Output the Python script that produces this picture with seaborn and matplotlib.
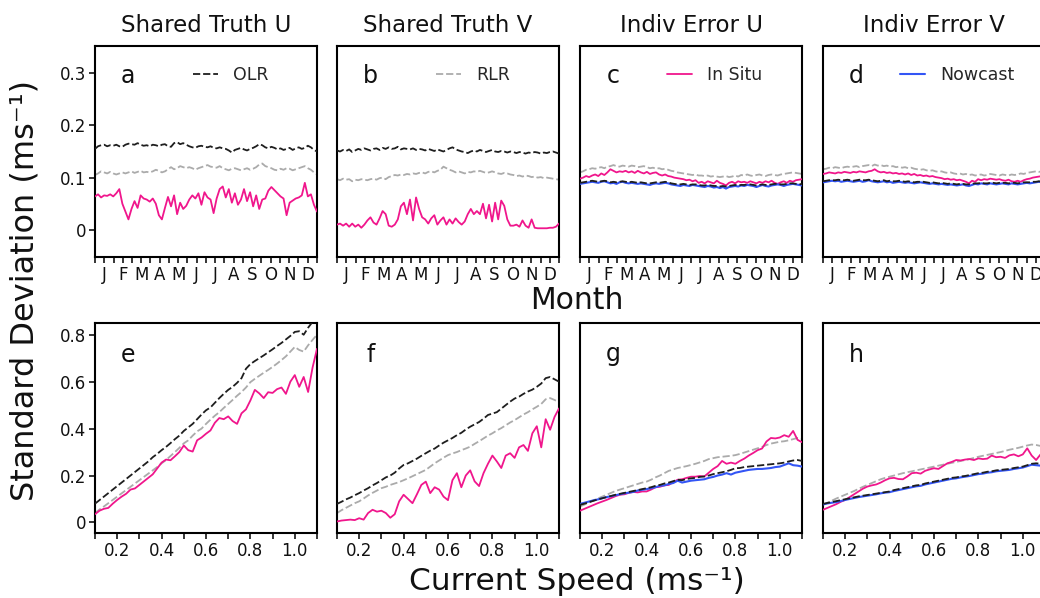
import numpy as np
import matplotlib
matplotlib.use("Agg")
import matplotlib.pyplot as plt
import seaborn as sns

# ---------------- data ----------------
months = ["J", "F", "M", "A", "M", "J", "J", "A", "S", "O", "N", "D"]
panel_titles = ["Shared Truth U", "Shared Truth V", "Indiv Error U", "Indiv Error V"]
panel_letters_top = ["a", "b", "c", "d"]
panel_letters_bot = ["e", "f", "g", "h"]
series_names = ["OLR", "RLR", "In Situ", "Nowcast"]

# top row: 5-day samples through the year (standard deviation, m/s)
a_olr = [0.155, 0.160, 0.162, 0.163, 0.160, 0.162, 0.161, 0.163, 0.160, 0.159, 0.163, 0.165, 0.164, 0.163, 0.166, 0.163, 0.161, 0.162, 0.160, 0.163, 0.162, 0.160, 0.163, 0.164, 0.160, 0.159, 0.166, 0.168, 0.164, 0.166, 0.163, 0.160, 0.158, 0.157, 0.160, 0.161, 0.159, 0.158, 0.160, 0.157, 0.156, 0.158, 0.156, 0.155, 0.152, 0.148, 0.153, 0.155, 0.157, 0.154, 0.152, 0.155, 0.157, 0.160, 0.164, 0.162, 0.158, 0.156, 0.159, 0.157, 0.154, 0.156, 0.153, 0.155, 0.157, 0.153, 0.156, 0.158, 0.155, 0.157, 0.161, 0.158, 0.153, 0.150]
a_rlr = [0.105, 0.108, 0.112, 0.110, 0.108, 0.111, 0.108, 0.106, 0.108, 0.110, 0.108, 0.110, 0.112, 0.109, 0.111, 0.113, 0.110, 0.111, 0.110, 0.112, 0.115, 0.113, 0.110, 0.112, 0.116, 0.120, 0.116, 0.118, 0.122, 0.120, 0.118, 0.120, 0.118, 0.115, 0.118, 0.120, 0.122, 0.124, 0.121, 0.120, 0.119, 0.122, 0.118, 0.116, 0.114, 0.117, 0.118, 0.116, 0.114, 0.116, 0.118, 0.115, 0.117, 0.120, 0.125, 0.127, 0.122, 0.120, 0.118, 0.115, 0.114, 0.117, 0.115, 0.118, 0.117, 0.114, 0.116, 0.118, 0.120, 0.122, 0.118, 0.115, 0.110, 0.106]
a_insitu = [0.064, 0.068, 0.062, 0.066, 0.065, 0.068, 0.064, 0.070, 0.078, 0.050, 0.035, 0.020, 0.040, 0.055, 0.042, 0.066, 0.060, 0.058, 0.054, 0.060, 0.050, 0.028, 0.020, 0.042, 0.063, 0.045, 0.066, 0.030, 0.052, 0.040, 0.046, 0.058, 0.066, 0.060, 0.070, 0.048, 0.072, 0.062, 0.058, 0.032, 0.060, 0.078, 0.083, 0.062, 0.078, 0.052, 0.070, 0.048, 0.058, 0.078, 0.055, 0.072, 0.045, 0.066, 0.040, 0.058, 0.060, 0.075, 0.082, 0.076, 0.070, 0.064, 0.060, 0.028, 0.052, 0.056, 0.060, 0.062, 0.066, 0.090, 0.064, 0.068, 0.048, 0.035]

b_olr = [0.152, 0.150, 0.153, 0.151, 0.154, 0.149, 0.152, 0.155, 0.153, 0.156, 0.154, 0.152, 0.155, 0.156, 0.153, 0.157, 0.155, 0.158, 0.155, 0.156, 0.159, 0.154, 0.156, 0.155, 0.154, 0.156, 0.153, 0.155, 0.154, 0.152, 0.155, 0.153, 0.151, 0.154, 0.152, 0.150, 0.153, 0.156, 0.158, 0.154, 0.152, 0.150, 0.149, 0.147, 0.150, 0.152, 0.150, 0.153, 0.151, 0.149, 0.151, 0.153, 0.150, 0.149, 0.151, 0.150, 0.148, 0.150, 0.149, 0.147, 0.149, 0.148, 0.146, 0.148, 0.147, 0.149, 0.148, 0.146, 0.148, 0.147, 0.149, 0.150, 0.148, 0.146]
b_rlr = [0.097, 0.095, 0.098, 0.096, 0.097, 0.093, 0.096, 0.095, 0.097, 0.096, 0.095, 0.097, 0.098, 0.096, 0.099, 0.100, 0.097, 0.101, 0.103, 0.105, 0.104, 0.106, 0.105, 0.107, 0.106, 0.108, 0.107, 0.109, 0.110, 0.108, 0.111, 0.112, 0.110, 0.113, 0.115, 0.121, 0.118, 0.115, 0.113, 0.110, 0.112, 0.110, 0.108, 0.111, 0.110, 0.112, 0.111, 0.113, 0.111, 0.109, 0.110, 0.112, 0.110, 0.108, 0.107, 0.109, 0.108, 0.106, 0.105, 0.103, 0.104, 0.102, 0.104, 0.103, 0.101, 0.102, 0.100, 0.101, 0.099, 0.100, 0.099, 0.098, 0.097, 0.096]
b_insitu = [0.010, 0.012, 0.008, 0.012, 0.006, 0.012, 0.006, 0.010, 0.004, 0.010, 0.018, 0.024, 0.014, 0.010, 0.022, 0.036, 0.030, 0.008, 0.006, 0.010, 0.020, 0.045, 0.052, 0.030, 0.058, 0.018, 0.062, 0.040, 0.024, 0.020, 0.012, 0.022, 0.028, 0.010, 0.018, 0.024, 0.010, 0.020, 0.012, 0.022, 0.015, 0.010, 0.016, 0.030, 0.040, 0.030, 0.036, 0.030, 0.050, 0.022, 0.048, 0.016, 0.052, 0.020, 0.056, 0.046, 0.020, 0.008, 0.008, 0.010, 0.006, 0.018, 0.008, 0.004, 0.020, 0.004, 0.003, 0.003, 0.003, 0.003, 0.004, 0.004, 0.006, 0.012]

c_olr = [0.090, 0.091, 0.092, 0.093, 0.094, 0.093, 0.092, 0.093, 0.094, 0.093, 0.091, 0.092, 0.091, 0.092, 0.093, 0.092, 0.091, 0.092, 0.091, 0.090, 0.091, 0.090, 0.089, 0.089, 0.090, 0.091, 0.090, 0.091, 0.092, 0.091, 0.089, 0.088, 0.087, 0.087, 0.088, 0.087, 0.086, 0.087, 0.087, 0.086, 0.085, 0.085, 0.086, 0.085, 0.084, 0.084, 0.083, 0.084, 0.083, 0.084, 0.085, 0.086, 0.085, 0.086, 0.086, 0.087, 0.087, 0.086, 0.085, 0.086, 0.087, 0.086, 0.086, 0.087, 0.088, 0.088, 0.087, 0.087, 0.088, 0.089, 0.089, 0.088, 0.088, 0.087]
c_rlr = [0.110, 0.112, 0.115, 0.116, 0.118, 0.117, 0.119, 0.120, 0.118, 0.121, 0.122, 0.124, 0.122, 0.121, 0.123, 0.122, 0.121, 0.123, 0.122, 0.120, 0.121, 0.122, 0.120, 0.118, 0.119, 0.117, 0.118, 0.116, 0.117, 0.115, 0.113, 0.112, 0.110, 0.109, 0.108, 0.107, 0.106, 0.105, 0.106, 0.104, 0.104, 0.103, 0.104, 0.102, 0.103, 0.102, 0.101, 0.102, 0.103, 0.101, 0.102, 0.104, 0.102, 0.105, 0.104, 0.106, 0.104, 0.103, 0.105, 0.106, 0.104, 0.103, 0.105, 0.106, 0.105, 0.104, 0.106, 0.107, 0.108, 0.109, 0.110, 0.109, 0.108, 0.107]
c_insitu = [0.098, 0.100, 0.103, 0.101, 0.104, 0.106, 0.103, 0.108, 0.105, 0.110, 0.116, 0.113, 0.110, 0.112, 0.111, 0.113, 0.110, 0.112, 0.109, 0.113, 0.110, 0.108, 0.111, 0.107, 0.109, 0.110, 0.106, 0.104, 0.106, 0.103, 0.102, 0.100, 0.099, 0.098, 0.097, 0.095, 0.096, 0.093, 0.095, 0.090, 0.092, 0.089, 0.093, 0.091, 0.089, 0.094, 0.090, 0.088, 0.085, 0.090, 0.092, 0.089, 0.093, 0.091, 0.092, 0.090, 0.093, 0.091, 0.089, 0.092, 0.090, 0.093, 0.091, 0.094, 0.090, 0.088, 0.091, 0.093, 0.090, 0.094, 0.092, 0.095, 0.096, 0.097]
c_nowcast = [0.088, 0.089, 0.090, 0.091, 0.092, 0.091, 0.090, 0.092, 0.093, 0.091, 0.089, 0.090, 0.088, 0.091, 0.092, 0.090, 0.089, 0.090, 0.089, 0.088, 0.089, 0.088, 0.087, 0.086, 0.088, 0.089, 0.088, 0.089, 0.090, 0.089, 0.087, 0.086, 0.085, 0.084, 0.086, 0.085, 0.084, 0.086, 0.085, 0.084, 0.083, 0.082, 0.084, 0.083, 0.081, 0.082, 0.080, 0.082, 0.079, 0.082, 0.083, 0.084, 0.083, 0.085, 0.084, 0.086, 0.085, 0.084, 0.082, 0.084, 0.086, 0.084, 0.083, 0.085, 0.086, 0.087, 0.086, 0.084, 0.086, 0.087, 0.088, 0.087, 0.086, 0.085]

d_olr = [0.093, 0.094, 0.095, 0.095, 0.095, 0.096, 0.095, 0.095, 0.096, 0.095, 0.094, 0.095, 0.096, 0.095, 0.095, 0.096, 0.095, 0.094, 0.093, 0.094, 0.095, 0.093, 0.094, 0.093, 0.093, 0.094, 0.093, 0.092, 0.093, 0.092, 0.091, 0.092, 0.092, 0.092, 0.091, 0.090, 0.091, 0.090, 0.089, 0.090, 0.089, 0.088, 0.089, 0.088, 0.087, 0.088, 0.088, 0.087, 0.087, 0.088, 0.089, 0.089, 0.090, 0.089, 0.089, 0.090, 0.090, 0.089, 0.090, 0.090, 0.090, 0.089, 0.090, 0.090, 0.089, 0.090, 0.091, 0.091, 0.091, 0.092, 0.092, 0.093, 0.092, 0.092]
d_rlr = [0.116, 0.117, 0.119, 0.118, 0.120, 0.119, 0.118, 0.120, 0.121, 0.120, 0.121, 0.122, 0.120, 0.122, 0.123, 0.124, 0.122, 0.125, 0.123, 0.124, 0.122, 0.123, 0.121, 0.122, 0.120, 0.121, 0.119, 0.120, 0.118, 0.119, 0.117, 0.116, 0.115, 0.116, 0.114, 0.113, 0.114, 0.112, 0.111, 0.112, 0.110, 0.109, 0.110, 0.108, 0.107, 0.108, 0.106, 0.107, 0.105, 0.106, 0.104, 0.105, 0.106, 0.104, 0.105, 0.107, 0.106, 0.105, 0.104, 0.106, 0.105, 0.104, 0.106, 0.105, 0.106, 0.108, 0.107, 0.109, 0.110, 0.111, 0.112, 0.111, 0.112, 0.111]
d_insitu = [0.107, 0.108, 0.110, 0.109, 0.108, 0.110, 0.109, 0.111, 0.110, 0.109, 0.111, 0.110, 0.112, 0.111, 0.110, 0.112, 0.113, 0.116, 0.112, 0.110, 0.111, 0.109, 0.110, 0.108, 0.109, 0.107, 0.108, 0.106, 0.108, 0.105, 0.107, 0.104, 0.105, 0.103, 0.104, 0.102, 0.103, 0.101, 0.100, 0.099, 0.097, 0.098, 0.096, 0.097, 0.095, 0.096, 0.094, 0.092, 0.089, 0.094, 0.092, 0.097, 0.095, 0.097, 0.096, 0.098, 0.097, 0.096, 0.097, 0.095, 0.094, 0.096, 0.093, 0.092, 0.094, 0.092, 0.095, 0.097, 0.098, 0.100, 0.101, 0.102, 0.103, 0.102]
d_nowcast = [0.091, 0.092, 0.093, 0.094, 0.093, 0.094, 0.092, 0.093, 0.094, 0.093, 0.092, 0.093, 0.094, 0.092, 0.093, 0.095, 0.093, 0.092, 0.091, 0.092, 0.093, 0.091, 0.092, 0.090, 0.091, 0.092, 0.091, 0.090, 0.091, 0.090, 0.089, 0.090, 0.091, 0.090, 0.089, 0.088, 0.089, 0.088, 0.087, 0.088, 0.087, 0.086, 0.087, 0.086, 0.085, 0.086, 0.087, 0.085, 0.084, 0.086, 0.088, 0.087, 0.089, 0.088, 0.087, 0.089, 0.088, 0.087, 0.088, 0.089, 0.088, 0.087, 0.089, 0.088, 0.087, 0.088, 0.089, 0.090, 0.089, 0.090, 0.091, 0.092, 0.091, 0.090]

# bottom row: current speed bins 0.10 ... 1.10 step 0.02
speed = [0.10, 0.12, 0.14, 0.16, 0.18, 0.20, 0.22, 0.24, 0.26, 0.28, 0.30, 0.32, 0.34, 0.36, 0.38, 0.40, 0.42, 0.44, 0.46, 0.48, 0.50, 0.52, 0.54, 0.56, 0.58, 0.60, 0.62, 0.64, 0.66, 0.68, 0.70, 0.72, 0.74, 0.76, 0.78, 0.80, 0.82, 0.84, 0.86, 0.88, 0.90, 0.92, 0.94, 0.96, 0.98, 1.00, 1.02, 1.04, 1.06, 1.08, 1.10]

e_olr = [0.080, 0.095, 0.110, 0.125, 0.140, 0.155, 0.170, 0.185, 0.200, 0.215, 0.230, 0.245, 0.260, 0.278, 0.292, 0.308, 0.322, 0.338, 0.355, 0.370, 0.390, 0.405, 0.420, 0.440, 0.460, 0.478, 0.490, 0.510, 0.530, 0.548, 0.565, 0.578, 0.595, 0.615, 0.655, 0.675, 0.688, 0.700, 0.712, 0.725, 0.738, 0.752, 0.765, 0.780, 0.795, 0.812, 0.815, 0.800, 0.830, 0.855, 0.880]
e_rlr = [0.040, 0.055, 0.068, 0.082, 0.096, 0.110, 0.124, 0.138, 0.152, 0.166, 0.180, 0.194, 0.208, 0.222, 0.236, 0.252, 0.266, 0.283, 0.300, 0.318, 0.337, 0.350, 0.370, 0.388, 0.400, 0.420, 0.438, 0.455, 0.470, 0.488, 0.505, 0.522, 0.540, 0.556, 0.575, 0.598, 0.612, 0.625, 0.638, 0.650, 0.663, 0.677, 0.692, 0.708, 0.728, 0.748, 0.735, 0.728, 0.755, 0.778, 0.800]
e_insitu = [0.035, 0.050, 0.058, 0.062, 0.080, 0.096, 0.110, 0.122, 0.140, 0.145, 0.160, 0.175, 0.190, 0.205, 0.230, 0.255, 0.268, 0.265, 0.282, 0.300, 0.328, 0.308, 0.302, 0.350, 0.362, 0.378, 0.392, 0.425, 0.445, 0.440, 0.452, 0.432, 0.420, 0.465, 0.482, 0.520, 0.565, 0.550, 0.530, 0.555, 0.552, 0.568, 0.575, 0.548, 0.600, 0.628, 0.578, 0.620, 0.556, 0.660, 0.740]

f_olr = [0.079, 0.088, 0.098, 0.106, 0.116, 0.125, 0.136, 0.146, 0.158, 0.168, 0.180, 0.192, 0.200, 0.212, 0.230, 0.245, 0.252, 0.262, 0.272, 0.284, 0.295, 0.306, 0.315, 0.328, 0.340, 0.350, 0.360, 0.372, 0.382, 0.396, 0.408, 0.418, 0.428, 0.442, 0.458, 0.464, 0.470, 0.485, 0.500, 0.515, 0.528, 0.536, 0.548, 0.558, 0.566, 0.578, 0.592, 0.615, 0.620, 0.610, 0.600]
f_rlr = [0.040, 0.052, 0.062, 0.072, 0.082, 0.090, 0.102, 0.115, 0.126, 0.136, 0.146, 0.152, 0.160, 0.166, 0.172, 0.180, 0.188, 0.197, 0.206, 0.215, 0.224, 0.238, 0.252, 0.264, 0.276, 0.287, 0.294, 0.300, 0.308, 0.315, 0.323, 0.335, 0.346, 0.358, 0.370, 0.380, 0.392, 0.402, 0.414, 0.426, 0.436, 0.448, 0.460, 0.470, 0.482, 0.493, 0.505, 0.525, 0.530, 0.522, 0.512]
f_insitu = [0.004, 0.008, 0.010, 0.012, 0.010, 0.018, 0.012, 0.040, 0.054, 0.046, 0.050, 0.040, 0.020, 0.035, 0.090, 0.118, 0.100, 0.082, 0.120, 0.160, 0.174, 0.125, 0.150, 0.140, 0.110, 0.095, 0.180, 0.210, 0.150, 0.200, 0.222, 0.175, 0.155, 0.210, 0.250, 0.285, 0.260, 0.232, 0.285, 0.295, 0.275, 0.320, 0.330, 0.305, 0.380, 0.410, 0.320, 0.440, 0.395, 0.450, 0.486]

g_olr = [0.075, 0.080, 0.086, 0.092, 0.098, 0.103, 0.108, 0.113, 0.118, 0.122, 0.126, 0.130, 0.134, 0.138, 0.142, 0.146, 0.150, 0.156, 0.160, 0.166, 0.170, 0.176, 0.182, 0.180, 0.185, 0.188, 0.190, 0.194, 0.196, 0.200, 0.206, 0.210, 0.214, 0.218, 0.224, 0.231, 0.232, 0.236, 0.238, 0.240, 0.242, 0.244, 0.246, 0.248, 0.250, 0.252, 0.255, 0.260, 0.264, 0.266, 0.262]
g_rlr = [0.068, 0.076, 0.085, 0.094, 0.102, 0.110, 0.118, 0.126, 0.134, 0.140, 0.146, 0.152, 0.158, 0.164, 0.170, 0.174, 0.182, 0.192, 0.200, 0.210, 0.220, 0.226, 0.232, 0.236, 0.240, 0.245, 0.250, 0.256, 0.262, 0.270, 0.274, 0.278, 0.280, 0.282, 0.284, 0.287, 0.292, 0.298, 0.304, 0.310, 0.316, 0.322, 0.330, 0.336, 0.340, 0.344, 0.346, 0.350, 0.355, 0.360, 0.356]
g_insitu = [0.050, 0.058, 0.066, 0.074, 0.082, 0.089, 0.096, 0.104, 0.112, 0.118, 0.120, 0.126, 0.130, 0.128, 0.132, 0.132, 0.140, 0.150, 0.152, 0.158, 0.160, 0.172, 0.182, 0.184, 0.190, 0.195, 0.195, 0.198, 0.196, 0.212, 0.228, 0.240, 0.262, 0.250, 0.255, 0.250, 0.262, 0.272, 0.285, 0.296, 0.308, 0.315, 0.345, 0.360, 0.358, 0.362, 0.372, 0.365, 0.390, 0.352, 0.342]
g_nowcast = [0.079, 0.084, 0.089, 0.094, 0.098, 0.103, 0.108, 0.112, 0.116, 0.120, 0.124, 0.127, 0.130, 0.136, 0.139, 0.142, 0.146, 0.150, 0.156, 0.158, 0.164, 0.168, 0.178, 0.170, 0.174, 0.178, 0.180, 0.182, 0.184, 0.190, 0.194, 0.200, 0.204, 0.210, 0.204, 0.212, 0.216, 0.220, 0.224, 0.226, 0.228, 0.228, 0.230, 0.232, 0.236, 0.238, 0.245, 0.252, 0.244, 0.242, 0.238]

h_olr = [0.079, 0.083, 0.087, 0.091, 0.095, 0.099, 0.103, 0.107, 0.111, 0.114, 0.117, 0.120, 0.123, 0.126, 0.129, 0.132, 0.138, 0.142, 0.146, 0.150, 0.154, 0.158, 0.160, 0.166, 0.170, 0.174, 0.178, 0.182, 0.186, 0.190, 0.192, 0.196, 0.198, 0.202, 0.206, 0.210, 0.212, 0.216, 0.218, 0.222, 0.224, 0.226, 0.228, 0.232, 0.235, 0.238, 0.244, 0.250, 0.252, 0.250, 0.248]
h_rlr = [0.075, 0.084, 0.093, 0.102, 0.110, 0.118, 0.126, 0.134, 0.143, 0.152, 0.160, 0.168, 0.176, 0.184, 0.190, 0.195, 0.200, 0.205, 0.210, 0.214, 0.218, 0.222, 0.226, 0.230, 0.234, 0.238, 0.242, 0.246, 0.250, 0.254, 0.258, 0.262, 0.266, 0.270, 0.275, 0.280, 0.284, 0.288, 0.292, 0.296, 0.300, 0.305, 0.310, 0.314, 0.318, 0.323, 0.328, 0.332, 0.330, 0.326, 0.324]
h_insitu = [0.054, 0.062, 0.070, 0.078, 0.088, 0.096, 0.108, 0.120, 0.132, 0.144, 0.153, 0.158, 0.162, 0.170, 0.180, 0.188, 0.190, 0.185, 0.184, 0.196, 0.210, 0.212, 0.208, 0.220, 0.226, 0.231, 0.228, 0.240, 0.252, 0.258, 0.266, 0.264, 0.268, 0.270, 0.266, 0.273, 0.270, 0.272, 0.285, 0.278, 0.280, 0.275, 0.286, 0.290, 0.282, 0.290, 0.316, 0.285, 0.266, 0.290, 0.282]
h_nowcast = [0.077, 0.081, 0.084, 0.087, 0.091, 0.096, 0.100, 0.104, 0.108, 0.111, 0.114, 0.117, 0.120, 0.124, 0.127, 0.129, 0.134, 0.138, 0.142, 0.146, 0.150, 0.154, 0.156, 0.162, 0.166, 0.170, 0.174, 0.178, 0.182, 0.186, 0.188, 0.192, 0.195, 0.198, 0.202, 0.206, 0.208, 0.212, 0.214, 0.218, 0.220, 0.222, 0.224, 0.228, 0.231, 0.234, 0.240, 0.246, 0.244, 0.242, 0.240]

top_data = [
    {"OLR": a_olr, "RLR": a_rlr, "In Situ": a_insitu},
    {"OLR": b_olr, "RLR": b_rlr, "In Situ": b_insitu},
    {"OLR": c_olr, "RLR": c_rlr, "In Situ": c_insitu, "Nowcast": c_nowcast},
    {"OLR": d_olr, "RLR": d_rlr, "In Situ": d_insitu, "Nowcast": d_nowcast},
]
bot_data = [
    {"OLR": e_olr, "RLR": e_rlr, "In Situ": e_insitu},
    {"OLR": f_olr, "RLR": f_rlr, "In Situ": f_insitu},
    {"OLR": g_olr, "RLR": g_rlr, "In Situ": g_insitu, "Nowcast": g_nowcast},
    {"OLR": h_olr, "RLR": h_rlr, "In Situ": h_insitu, "Nowcast": h_nowcast},
]

# ---------------- style ----------------
sns.set_theme(style="white")
plt.rcParams["font.family"] = ["DejaVu Sans"]

PINK = "#F0168C"
BLUE = "#3355F5"
BLACK = "#1E1E1E"
GRAY = "#ABABAB"
styles = {
    "RLR": dict(color=GRAY, linestyle=(0, (4, 1.6)), lw=1.3, zorder=2),
    "In Situ": dict(color=PINK, linestyle="-", lw=1.3, zorder=3),
    "Nowcast": dict(color=BLUE, linestyle="-", lw=1.5, zorder=4),
    "OLR": dict(color=BLACK, linestyle=(0, (4, 1.6)), lw=1.3, zorder=5),
}
draw_order = ["RLR", "In Situ", "Nowcast", "OLR"]
legend_for = ["OLR", "RLR", "In Situ", "Nowcast"]
legend_x = [0.441, 0.446, 0.392, 0.347]

fig = plt.figure(figsize=(10.4, 5.98), dpi=100)
W, H = 1040, 598
lefts = [95, 337, 580, 823]
pw = 222
top_box = (46, 257)
bot_box = (323, 533)

def make_ax(left, box):
    t, b = box
    return fig.add_axes([left / W, 1 - b / H, pw / W, (b - t) / H])

def style_ax(ax):
    for s in ax.spines.values():
        s.set_linewidth(1.5)
        s.set_color("black")
    ax.tick_params(axis="both", which="both", direction="out", length=4.5,
                   width=1.1, color="black", labelsize=12, pad=2,
                   bottom=True, left=False, labelcolor="#111111")

for i in range(4):
    # ---- top row
    ax = make_ax(lefts[i], top_box)
    n = len(top_data[i]["OLR"])
    mpos = np.linspace(0, 12, n)
    for name in draw_order:
        if name in top_data[i]:
            st = styles[name]
            sns.lineplot(x=mpos, y=top_data[i][name], ax=ax, estimator=None,
                         color=st["color"], linestyle=st["linestyle"],
                         linewidth=st["lw"], zorder=st["zorder"], label=name)
    ax.set_xlim(0, 12)
    ax.set_ylim(-0.052, 0.352)
    style_ax(ax)
    ax.set_xticks(np.arange(0.5, 12, 1.0))
    ax.set_xticklabels(months)
    ax.set_xticks(np.arange(0, 12.01, 1.0), minor=True)
    ax.tick_params(axis="x", which="minor", length=4.5, width=1.1)
    ax.set_yticks([0, 0.1, 0.2, 0.3])
    if i == 0:
        ax.set_yticklabels(["0", "0.1", "0.2", "0.3"])
        ax.tick_params(axis="y", left=True, labelleft=True)
    else:
        ax.tick_params(axis="y", left=False, labelleft=False)
    ax.set_title(panel_titles[i], fontsize=16.5, pad=10, color="#111111")
    ax.text(0.15, 0.86, panel_letters_top[i], transform=ax.transAxes,
            ha="center", va="center", fontsize=17, color="#111111")
    # legend: one entry per panel
    hl, lb = ax.get_legend_handles_labels()
    entry = legend_for[i]
    h = [hh for hh, ll in zip(hl, lb) if ll == entry]
    ax.legend(h, [entry], loc="center left", bbox_to_anchor=(legend_x[i], 0.862),
              frameon=False, borderpad=0, borderaxespad=0, handlelength=1.45,
              handletextpad=0.85, fontsize=12.5)
    ax.set_xlabel("")
    ax.set_ylabel("")

    # ---- bottom row
    ax = make_ax(lefts[i], bot_box)
    for name in draw_order:
        if name in bot_data[i]:
            st = styles[name]
            sns.lineplot(x=speed, y=bot_data[i][name], ax=ax, estimator=None,
                         color=st["color"], linestyle=st["linestyle"],
                         linewidth=st["lw"], zorder=st["zorder"], legend=False)
    ax.set_xlim(0.1, 1.1)
    ax.set_ylim(-0.045, 0.85)
    style_ax(ax)
    xt = np.round(np.arange(0.1, 1.101, 0.1), 1)
    ax.set_xticks(xt)
    ax.set_xticklabels([f"{v:.1f}" if round(v * 10) % 2 == 0 else "" for v in xt])
    ax.set_yticks([0, 0.2, 0.4, 0.6, 0.8])
    if i == 0:
        ax.set_yticklabels(["0", "0.2", "0.4", "0.6", "0.8"])
        ax.tick_params(axis="y", left=True, labelleft=True)
    else:
        ax.tick_params(axis="y", left=False, labelleft=False)
    ax.text(0.15, 0.85, panel_letters_bot[i], transform=ax.transAxes,
            ha="center", va="center", fontsize=17, color="#111111")
    ax.set_xlabel("")
    ax.set_ylabel("")

fig.text(0.555, 0.498, "Month", ha="center", va="center", fontsize=21.5, color="#111111")
fig.text(0.555, 0.028, "Current Speed (ms⁻¹)", ha="center", va="center",
         fontsize=22.5, color="#111111")
fig.text(0.024, 0.515, "Standard Deviation (ms⁻¹)", ha="center", va="center",
         rotation=90, fontsize=23, color="#111111")

fig.savefig("out.png", dpi=100)
